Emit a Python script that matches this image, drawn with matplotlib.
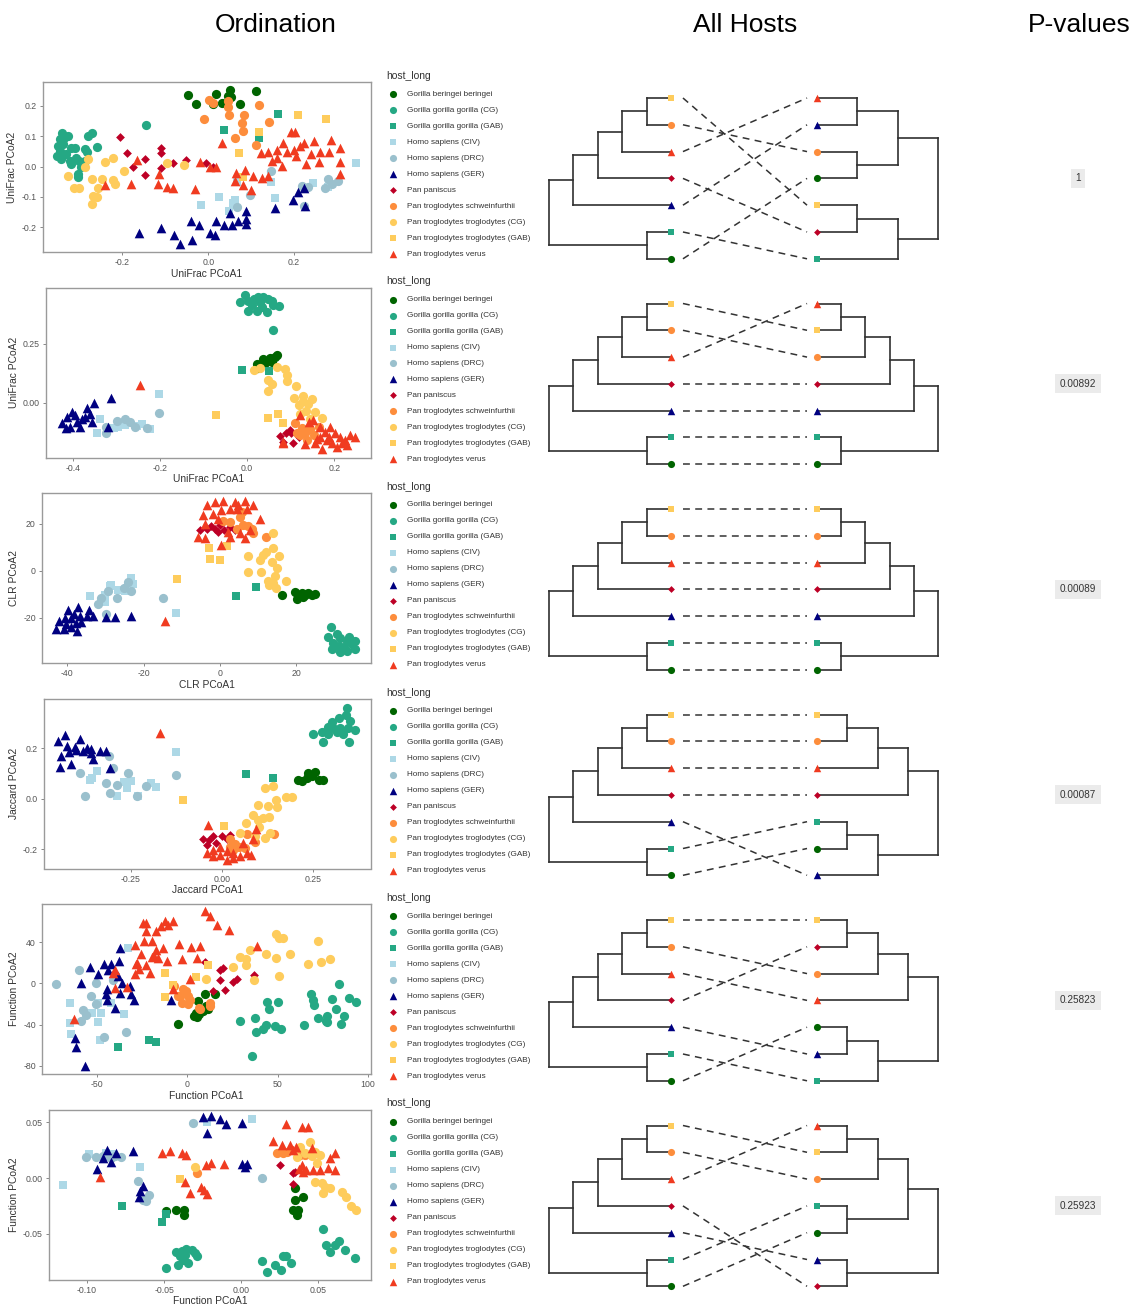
import matplotlib
matplotlib.use('Agg')
import matplotlib.pyplot as plt

plt.rcParams['font.family'] = ['Liberation Sans', 'DejaVu Sans']
plt.rcParams['axes.unicode_minus'] = False

W, H = 1133, 1306
ROW = 205.5

# host groups (legend order)
codes = ['GBB', 'GGC', 'GGG', 'HSC', 'HSD', 'HSG', 'PP', 'PTS', 'PTC', 'PTG', 'PTV']
names = ['Gorilla beringei beringei', 'Gorilla gorilla gorilla (CG)',
         'Gorilla gorilla gorilla (GAB)', 'Homo sapiens (CIV)', 'Homo sapiens (DRC)',
         'Homo sapiens (GER)', 'Pan paniscus', 'Pan troglodytes schweinfurthii',
         'Pan troglodytes troglodytes (CG)', 'Pan troglodytes troglodytes (GAB)',
         'Pan troglodytes verus']
colors = ['#006400', '#25A884', '#25A884', '#ADD8E6', '#9AC0CD', '#000080',
          '#BD0026', '#FD8D3C', '#FECC5C', '#FECC5C', '#F03B20']
markers = ['o', 'o', 's', 's', 'o', '^', 'D', 'o', 'o', 's', '^']
msize = {'o': 44, 's': 34, '^': 48, 'D': 20}

# ---- ordination scores ----
unifrac_w = {
    'GBB': [(-0.048, 0.234), (-0.029, 0.206), (0.018, 0.240), (0.012, 0.206), (0.032, 0.208),
            (0.051, 0.253), (0.045, 0.233), (0.053, 0.228), (0.074, 0.206), (0.110, 0.248)],
    'GGC': [(-0.340, 0.111), (-0.346, 0.089), (-0.350, 0.068), (-0.346, 0.051), (-0.342, 0.024),
            (-0.335, 0.095), (-0.327, 0.100), (-0.319, 0.060), (-0.331, 0.040), (-0.323, 0.019),
            (-0.311, 0.060), (-0.307, 0.029), (-0.300, 0.019), (-0.296, -0.003), (-0.304, -0.036),
            (-0.288, 0.057), (-0.282, 0.049), (-0.272, 0.111), (-0.280, 0.100), (-0.259, 0.064),
            (-0.288, 0.019), (-0.319, 0.008), (-0.304, -0.025), (-0.146, 0.135), (-0.353, 0.035),
            (-0.339, 0.073)],
    'GGG': [(0.037, 0.120), (0.119, 0.095), (0.162, 0.173)],
    'HSC': [(0.344, 0.013), (0.068, -0.052), (0.146, -0.052), (0.156, -0.105), (0.026, -0.101),
            (-0.018, -0.125), (0.058, -0.121), (0.049, -0.147), (0.062, -0.110), (0.280, -0.067),
            (0.245, -0.053)],
    'HSD': [(0.146, -0.016), (0.097, -0.095), (0.068, -0.134), (0.218, -0.063), (0.233, -0.067),
            (0.272, -0.069), (0.303, -0.047), (0.280, -0.041), (0.223, -0.131), (0.288, -0.058)],
    'HSG': [(-0.161, -0.218), (-0.111, -0.203), (-0.079, -0.225), (-0.066, -0.254), (-0.039, -0.243),
            (-0.041, -0.180), (-0.022, -0.191), (0.004, -0.219), (0.016, -0.224), (0.019, -0.180),
            (0.037, -0.192), (0.056, -0.191), (0.070, -0.178), (0.088, -0.147), (0.089, -0.173),
            (0.089, -0.189), (0.051, -0.154), (0.156, -0.136), (0.197, -0.110), (0.209, -0.085),
            (0.226, -0.131), (0.222, -0.069)],
    'PP': [(-0.206, 0.097), (-0.189, 0.046), (-0.175, -0.001), (-0.148, 0.024), (-0.148, -0.027),
           (-0.111, 0.060), (-0.111, 0.044), (-0.111, -0.005), (-0.083, 0.013), (-0.053, 0.021),
           (-0.005, 0.013), (0.010, -0.003)],
    'PTS': [(0.002, 0.220), (0.010, 0.209), (0.047, 0.195), (-0.010, 0.155), (0.048, 0.168),
            (0.083, 0.169), (0.079, 0.144), (0.082, 0.117), (0.062, 0.095), (0.118, 0.201),
            (0.141, 0.147), (0.111, 0.070), (0.045, 0.217)],
    'PTC': [(-0.327, -0.031), (-0.313, -0.072), (-0.300, -0.072), (-0.288, -0.003), (-0.280, 0.024),
            (-0.270, -0.041), (-0.257, -0.069), (-0.268, -0.096), (-0.259, -0.101), (-0.270, -0.123),
            (-0.247, -0.041), (-0.241, 0.015), (-0.223, 0.029), (-0.222, -0.045), (-0.218, -0.058),
            (-0.197, -0.014), (-0.097, 0.013), (-0.056, 0.004)],
    'PTG': [(0.210, 0.168), (0.275, 0.156), (0.117, 0.115), (0.072, 0.044), (0.080, -0.036)],
    'PTV': [(-0.241, -0.060), (-0.179, -0.056), (-0.166, 0.021), (-0.117, -0.056), (-0.097, -0.067),
            (-0.082, -0.069), (-0.114, -0.023), (-0.030, -0.074), (-0.019, 0.016), (0.005, -0.001),
            (0.019, -0.003), (0.033, 0.079), (0.065, -0.020), (0.086, -0.012), (0.080, -0.060),
            (0.103, -0.031), (0.125, -0.038), (0.140, -0.031), (0.122, 0.046), (0.140, 0.049),
            (0.148, 0.019), (0.159, 0.053), (0.159, 0.029), (0.171, 0.002), (0.175, 0.079),
            (0.183, 0.049), (0.193, 0.113), (0.203, 0.113), (0.200, 0.053), (0.205, 0.035),
            (0.214, 0.068), (0.223, 0.079), (0.228, 0.008), (0.240, 0.040), (0.247, 0.084),
            (0.257, 0.015), (0.261, 0.047), (0.282, 0.047), (0.286, 0.087), (0.307, 0.060),
            (0.307, 0.015), (0.307, -0.025), (0.099, -0.077), (0.062, -0.049)],
}

unifrac_u = {
    'GBB': [(0.022, 0.165), (0.037, 0.186), (0.045, 0.179), (0.053, 0.191), (0.064, 0.196),
            (0.026, 0.148), (0.041, 0.168), (0.057, 0.172), (0.068, 0.201)],
    'GGC': [(-0.005, 0.459), (-0.016, 0.427), (0.003, 0.434), (0.015, 0.441), (0.026, 0.448),
            (0.037, 0.451), (0.049, 0.441), (0.060, 0.417), (0.074, 0.412), (0.001, 0.391),
            (0.022, 0.391), (0.034, 0.405), (0.045, 0.384), (0.057, 0.431), (0.011, 0.417),
            (0.030, 0.427), (0.059, 0.311)],
    'GGG': [(-0.011, 0.137), (0.050, 0.135)],
    'HSC': [(-0.201, 0.035), (-0.345, -0.129), (-0.337, -0.068), (-0.295, -0.103), (-0.280, -0.096),
            (-0.253, -0.100), (-0.241, -0.092), (-0.222, -0.114), (-0.306, -0.110)],
    'HSD': [(-0.201, -0.044), (-0.323, -0.129), (-0.299, -0.078), (-0.280, -0.068), (-0.257, -0.103),
            (-0.323, -0.103), (-0.268, -0.082), (-0.230, -0.110)],
    'HSG': [(-0.425, -0.089), (-0.413, -0.061), (-0.402, -0.040), (-0.406, -0.103), (-0.390, -0.082),
            (-0.383, -0.103), (-0.371, -0.061), (-0.368, -0.025), (-0.360, -0.047), (-0.351, -0.001),
            (-0.356, -0.082), (-0.415, -0.110), (-0.394, -0.054), (-0.379, -0.072), (-0.313, 0.021),
            (-0.320, -0.103)],
    'PP': [(0.076, -0.143), (0.089, -0.129), (0.100, -0.131), (0.083, -0.167), (0.106, -0.171),
           (0.099, -0.117), (0.118, -0.145)],
    'PTS': [(0.110, -0.089), (0.125, -0.110), (0.133, -0.129), (0.144, -0.114), (0.154, -0.138),
            (0.137, -0.160), (0.122, -0.138), (0.164, -0.103), (0.114, -0.131)],
    'PTC': [(0.015, 0.137), (0.030, 0.148), (0.049, 0.095), (0.057, 0.081), (0.047, 0.048),
            (0.087, 0.144), (0.092, 0.116), (0.091, 0.090), (0.112, 0.069), (0.108, 0.021),
            (0.128, 0.027), (0.129, 0.007), (0.148, 0.017), (0.140, -0.007), (0.118, -0.011),
            (0.135, -0.035), (0.156, -0.040), (0.171, -0.064), (0.144, -0.068), (0.122, -0.047),
            (0.068, 0.151)],
    'PTG': [(-0.071, -0.054), (0.047, -0.065), (0.070, -0.047), (0.083, -0.089)],
    'PTV': [(-0.245, 0.073), (0.122, -0.054), (0.083, -0.174), (0.167, -0.103), (0.179, -0.124),
            (0.190, -0.103), (0.202, -0.131), (0.213, -0.145), (0.225, -0.160), (0.236, -0.138),
            (0.248, -0.148), (0.183, -0.160), (0.195, -0.174), (0.206, -0.188), (0.171, -0.199),
            (0.187, -0.145), (0.218, -0.174), (0.229, -0.181), (0.156, -0.171), (0.133, -0.177),
            (0.141, -0.082), (0.152, -0.075), (0.160, -0.157), (0.083, -0.167), (0.167, -0.145)],
}

clr = {
    'GBB': [(16.2, -10.1), (19.7, -9.0), (20.6, -10.8), (21.4, -9.4), (22.3, -10.1), (23.2, -9.4),
            (24.1, -10.1), (24.9, -9.8), (20.1, -11.8), (21.9, -11.2)],
    'GGC': [(29.0, -24.1), (31.5, -28.6), (28.4, -28.3), (29.7, -30.5), (31.1, -31.9), (33.2, -29.8),
            (34.6, -31.2), (35.4, -33.3), (33.2, -34.0), (31.5, -34.7), (29.3, -33.3), (33.9, -28.1),
            (35.4, -29.8), (30.6, -26.9), (32.4, -32.6)],
    'GGG': [(4.1, -10.5), (9.4, -7.0)],
    'HSC': [(-23.4, -3.1), (-22.7, -5.6), (-28.4, -5.9), (-28.9, -6.6), (-33.9, -10.8),
            (-30.2, -10.1), (-30.2, -13.2), (-24.9, -8.7), (-11.5, -17.8), (-26.7, -8.0)],
    'HSD': [(-15.0, -11.5), (-31.9, -14.0), (-29.3, -8.4), (-26.9, -11.5), (-24.1, -4.8),
            (-23.2, -8.7), (-29.9, -18.5), (-31.1, -11.5), (-25.2, -7.3)],
    'HSG': [(-42.9, -24.8), (-42.2, -21.3), (-40.2, -22.7), (-39.8, -16.8), (-38.9, -19.9),
            (-38.1, -18.5), (-37.8, -22.0), (-37.1, -15.4), (-36.7, -19.2), (-36.3, -21.6),
            (-37.3, -25.5), (-34.3, -16.8), (-34.8, -19.2), (-33.2, -19.2), (-40.9, -24.8),
            (-29.9, -19.6), (-27.6, -19.6), (-23.4, -19.2), (-38.9, -24.1), (-40.7, -19.9)],
    'PP': [(-5.2, 17.3), (-2.2, 19.1), (-1.3, 18.0), (0.0, 19.4), (1.0, 17.3), (2.6, 18.7),
           (3.9, 17.3), (-0.4, 16.6), (-3.5, 18.0)],
    'PTS': [(12.2, 14.5), (0.9, 21.1), (2.6, 20.8), (5.2, 22.9), (6.1, 19.6), (7.4, 19.1),
            (4.4, 18.0), (8.7, 15.9), (8.3, 18.0), (5.7, 25.0)],
    'PTC': [(14.0, 16.3), (7.4, 6.3), (11.4, 6.7), (12.2, 8.1), (13.8, 9.5), (15.6, 6.5),
            (10.5, 4.6), (13.6, 3.6), (7.4, -0.6), (10.9, -0.6), (14.9, 1.4), (12.7, -4.5),
            (14.4, -2.4), (12.9, -6.2), (14.7, -7.3), (17.3, -4.5), (14.0, -5.2)],
    'PTG': [(-2.8, 9.8), (1.9, 10.5), (-2.6, 5.1), (0.0, 4.6), (-11.2, -3.5)],
    'PTV': [(-14.4, -21.3), (-3.5, 27.8), (-1.3, 29.2), (0.9, 29.9), (3.9, 29.2), (4.8, 27.8),
            (6.6, 29.5), (8.7, 27.8), (-4.4, 23.6), (-1.7, 24.3), (0.4, 25.7), (2.6, 26.1),
            (4.4, 26.4), (7.0, 26.1), (10.5, 22.2), (-5.7, 14.5), (-3.9, 13.8), (0.4, 11.0),
            (2.6, 14.5), (5.2, 15.9), (6.6, 13.8), (-0.4, 22.2), (2.2, 16.6), (-3.9, 20.1),
            (7.9, 17.3)],
}

jaccard = {
    'GBB': [(0.210, 0.075), (0.219, 0.069), (0.233, 0.082), (0.246, 0.088), (0.255, 0.105),
            (0.265, 0.075), (0.277, 0.075), (0.237, 0.101)],
    'GGC': [(0.249, 0.255), (0.277, 0.222), (0.274, 0.265), (0.292, 0.284), (0.301, 0.301),
            (0.315, 0.265), (0.324, 0.281), (0.342, 0.359), (0.341, 0.331), (0.352, 0.307),
            (0.365, 0.271), (0.350, 0.222), (0.333, 0.255), (0.320, 0.320), (0.292, 0.255),
            (0.306, 0.281), (0.347, 0.281)],
    'GGG': [(0.066, 0.098), (0.139, 0.082)],
    'HSC': [(-0.127, 0.183), (-0.363, 0.075), (-0.342, 0.108), (-0.289, 0.009), (-0.268, 0.065),
            (-0.248, 0.069), (-0.259, 0.043), (-0.230, 0.009), (-0.195, 0.061), (-0.181, 0.046),
            (-0.355, 0.082)],
    'HSD': [(-0.310, 0.170), (-0.300, 0.122), (-0.388, 0.101), (-0.319, 0.061), (-0.308, 0.022),
            (-0.376, 0.009), (-0.257, 0.101), (-0.233, 0.009), (-0.209, 0.048), (-0.125, 0.092),
            (-0.289, 0.052)],
    'HSG': [(-0.450, 0.226), (-0.430, 0.252), (-0.441, 0.170), (-0.444, 0.124), (-0.419, 0.183),
            (-0.413, 0.135), (-0.399, 0.192), (-0.388, 0.235), (-0.381, 0.188), (-0.370, 0.200),
            (-0.359, 0.179), (-0.354, 0.157), (-0.334, 0.190), (-0.319, 0.187), (-0.308, 0.122),
            (-0.424, 0.209), (-0.404, 0.203), (-0.358, 0.196)],
    'PP': [(-0.051, -0.161), (-0.042, -0.183), (-0.024, -0.150), (-0.001, -0.150), (0.013, -0.161),
           (-0.015, -0.176), (0.022, -0.144), (-0.035, -0.163)],
    'PTS': [(0.022, -0.190), (0.036, -0.179), (0.048, -0.190), (0.070, -0.140), (0.091, -0.174),
            (0.063, -0.196), (0.143, -0.140), (0.022, -0.161), (0.031, -0.203)],
    'PTC': [(0.118, 0.042), (0.139, 0.048), (0.148, -0.004), (0.127, -0.030), (0.100, -0.026),
            (0.086, -0.065), (0.112, -0.078), (0.128, -0.072), (0.100, -0.085), (0.103, -0.114),
            (0.118, -0.157), (0.091, -0.150), (0.066, -0.095), (0.049, -0.137), (0.176, 0.005),
            (0.191, 0.007), (0.152, -0.035), (0.132, -0.135)],
    'PTG': [(-0.106, -0.004), (0.005, -0.109)],
    'PTV': [(-0.170, 0.261), (-0.038, -0.105), (-0.042, -0.216), (-0.024, -0.229), (-0.005, -0.222),
            (0.013, -0.242), (0.031, -0.235), (0.049, -0.226), (0.068, -0.216), (0.081, -0.222),
            (0.086, -0.161), (0.093, -0.122), (-0.024, -0.203), (-0.005, -0.190), (0.031, -0.216),
            (0.059, -0.176), (0.013, -0.209)],
}

function_a = {
    'GBB': [(-5.0, -39.6), (3.7, -31.5), (5.5, -32.5), (6.6, -29.9), (8.9, -26.7), (10.3, -21.9),
            (6.1, -17.1), (9.8, -10.0), (15.3, -10.6), (4.8, -28.3), (11.6, -25.1)],
    'GGC': [(29.2, -36.4), (38.0, -46.7), (37.6, -33.1), (36.0, -70.8), (44.3, -17.7), (45.4, -25.1),
            (42.1, -44.4), (43.5, -40.5), (48.5, -41.2), (50.4, -17.7), (51.8, -44.4), (64.6, -40.2),
            (68.3, -10.0), (69.7, -16.4), (70.3, -21.2), (72.5, -33.1), (80.4, -15.4), (77.1, -31.5),
            (77.5, -37.0), (82.3, -25.1), (84.1, -0.3), (84.9, -39.6), (86.7, -31.5), (89.7, -14.5),
            (93.4, -17.7), (76.8, -36.4)],
    'GGG': [(-38.2, -62.1), (-21.0, -54.7), (-17.3, -56.6)],
    'HSC': [(-32.7, 33.8), (-64.6, -18.7), (-64.9, -38.6), (-64.0, -48.6), (-49.3, -18.7),
            (-52.4, -28.3), (-47.6, -28.3), (-49.3, -37.3), (-41.9, -18.7), (-35.1, -29.3),
            (-48.0, -54.7)],
    'HSD': [(-72.3, -1.0), (-59.8, 12.9), (-50.6, 0.0), (-53.0, -12.2), (-57.6, -26.1),
            (-59.0, -36.4), (-55.7, -30.6), (-50.2, -20.3), (-46.1, -51.8), (-34.0, -47.0),
            (-41.0, 2.9)],
    'HSG': [(-37.3, 34.4), (-53.9, 15.8), (-58.5, 0.6), (-49.3, 9.3), (-46.1, 19.0), (-43.7, 12.5),
            (-37.6, 21.6), (-38.2, 7.1), (-35.8, 0.6), (-44.6, -5.8), (-45.0, -10.6), (-44.6, -16.4),
            (-40.0, -24.1), (-37.3, -9.0), (-31.7, -2.6), (-30.8, -10.6), (-29.5, -16.4),
            (-62.2, -53.4), (-61.6, -61.5), (-56.6, -79.8), (-8.7, -16.4), (-41.9, 18.3)],
    'PP': [(9.8, 20.9), (18.1, 12.5), (19.9, 14.5), (18.1, 2.9), (25.5, 1.6), (27.7, 3.9),
           (20.8, -6.4), (36.9, 7.7), (14.4, -7.4)],
    'PTS': [(-5.0, -12.2), (-2.2, -5.8), (-0.7, -7.4), (0.6, -12.2), (-3.1, -18.7), (0.6, -20.3),
            (1.5, -16.4), (6.6, -23.5), (12.9, -18.7), (12.5, -21.9), (-7.4, -2.6), (7.0, -25.1),
            (-4.1, -12.2)],
    'PTC': [(10.3, 3.9), (25.1, 15.8), (29.2, 25.4), (32.5, 17.7), (32.5, 23.2), (34.9, 31.9),
            (43.5, 28.0), (49.1, 47.9), (50.9, 44.1), (52.8, 44.1), (49.1, 24.8), (50.6, 7.1),
            (56.8, 28.6), (67.0, 19.0), (72.5, 41.5), (73.8, 20.9), (79.0, 23.2), (36.9, 2.9)],
    'PTG': [(-12.4, 10.3), (-7.7, -1.6), (-12.4, -13.2), (4.8, 6.1), (11.6, 17.4)],
    'PTV': [(-41.0, 10.3), (-29.0, 8.7), (-28.0, 19.9), (-29.0, 37.6), (-24.4, 58.6), (-22.5, 58.6),
            (-17.0, 51.2), (-19.2, 41.5), (-17.0, 32.8), (-16.2, 24.8), (-18.5, 26.4), (-12.4, 60.8),
            (-10.7, 56.9), (-7.7, 60.2), (-14.2, 55.3), (-22.5, 51.2), (-24.0, 41.5), (-25.3, 28.6),
            (-28.4, 19.0), (-20.3, 10.3), (-19.7, 25.4), (-11.4, 21.6), (-4.4, 38.3), (-2.6, 23.2),
            (2.4, 35.1), (7.0, 36.0), (5.2, 24.1), (1.5, 3.9), (9.8, 70.5), (12.9, 65.0),
            (16.6, 56.3), (23.2, 52.1), (38.7, 36.0), (-33.2, -3.5), (-40.0, -4.2), (-62.7, -34.7),
            (-7.7, -5.8), (-40.0, 12.5), (-26.6, 13.5), (-13.3, 34.4), (-22.5, 17.7)],
}

function_b = {
    'GBB': [(-0.0485, -0.0298), (-0.0420, -0.0289), (-0.0372, -0.0283), (-0.0372, -0.0327),
            (0.0348, -0.0089), (0.0348, -0.0193), (0.0398, -0.0164), (0.0338, -0.0283),
            (0.0370, -0.0283), (0.0359, -0.0327)],
    'GGC': [(-0.0489, -0.0804), (-0.0409, -0.0780), (-0.0424, -0.0664), (-0.0398, -0.0699),
            (-0.0387, -0.0655), (-0.0366, -0.0685), (-0.0344, -0.0759), (-0.0322, -0.0640),
            (-0.0301, -0.0670), (-0.0290, -0.0699), (-0.0377, -0.0729), (-0.0355, -0.0634),
            (0.0132, -0.0744), (0.0165, -0.0842), (0.0219, -0.0780), (0.0255, -0.0824),
            (0.0273, -0.0699), (0.0290, -0.0699), (0.0320, -0.0759), (0.0528, -0.0455),
            (0.0550, -0.0595), (0.0576, -0.0664), (0.0608, -0.0595), (0.0636, -0.0565),
            (0.0673, -0.0640), (0.0738, -0.0714)],
    'GGG': [(-0.0771, -0.0253), (-0.0491, -0.0321), (-0.0517, -0.0396)],
    'HSC': [(-0.1156, -0.0060), (-0.0987, 0.0217), (-0.0853, 0.0193), (-0.0831, 0.0217),
            (-0.0658, 0.0104), (-0.0225, 0.0500), (0.0069, 0.0530), (-0.0879, 0.0223)],
    'HSD': [(-0.1009, 0.0193), (-0.0944, 0.0188), (-0.0896, 0.0199), (-0.0820, 0.0199),
            (-0.0777, 0.0193), (-0.0669, -0.0021), (-0.0636, -0.0193), (-0.0615, -0.0208),
            (-0.0597, -0.0149), (-0.0316, 0.0497), (0.0132, 0.0000), (-0.0842, 0.0179)],
    'HSG': [(-0.0933, 0.0080), (-0.0896, 0.0179), (-0.0870, 0.0253), (-0.0842, 0.0149),
            (-0.0814, 0.0223), (-0.0701, 0.0247), (-0.0636, -0.0074), (-0.0662, -0.0164),
            (-0.0654, -0.0119), (-0.0251, 0.0551), (-0.0199, 0.0557), (-0.0225, 0.0402),
            (-0.0139, 0.0527), (-0.0100, 0.0485), (0.0002, 0.0497), (0.0002, 0.0128),
            (0.0024, 0.0104), (0.0035, 0.0128)],
    'PP': [(0.0251, 0.0119), (0.0333, 0.0051), (0.0338, -0.0051), (0.0348, 0.0060)],
    'PTS': [(0.0229, 0.0223), (0.0268, 0.0229), (0.0294, 0.0238), (-0.0286, 0.0051),
            (0.0381, 0.0208), (0.0413, 0.0208)],
    'PTC': [(-0.0301, 0.0098), (0.0381, 0.0283), (0.0413, 0.0223), (0.0446, 0.0327),
            (0.0478, 0.0238), (0.0489, 0.0134), (0.0511, 0.0208), (0.0478, -0.0030),
            (0.0522, -0.0045), (0.0543, -0.0080), (0.0576, -0.0089), (0.0533, -0.0134),
            (0.0652, -0.0128), (0.0680, -0.0170), (0.0710, -0.0247), (0.0745, -0.0283),
            (0.0457, 0.0199), (0.0359, 0.0193)],
    'PTG': [(-0.0398, -0.0009)],
    'PTV': [(-0.0918, 0.0009), (-0.0511, 0.0229), (-0.0463, 0.0247), (-0.0381, 0.0223),
            (-0.0359, 0.0208), (-0.0366, -0.0030), (-0.0333, -0.0134), (-0.0258, -0.0080),
            (-0.0242, -0.0104), (-0.0225, -0.0143), (-0.0229, 0.0119), (-0.0199, 0.0140),
            (-0.0113, 0.0128), (0.0203, 0.0336), (0.0262, 0.0298), (0.0290, 0.0485),
            (0.0316, 0.0298), (0.0338, 0.0253), (0.0392, 0.0461), (0.0435, 0.0455),
            (0.0355, 0.0283), (0.0392, 0.0119), (0.0420, 0.0074), (0.0457, 0.0268),
            (0.0511, 0.0074), (0.0565, 0.0089), (0.0608, 0.0074), (0.0608, 0.0223),
            (0.0576, 0.0179), (0.0468, 0.0074), (0.0403, 0.0060), (0.0377, 0.0080)],
}

# axis titles, ticks, limits per row
x_titles = ['UniFrac PCoA1', 'UniFrac PCoA1', 'CLR PCoA1', 'Jaccard PCoA1',
            'Function PCoA1', 'Function PCoA1']
y_titles = ['UniFrac PCoA2', 'UniFrac PCoA2', 'CLR PCoA2', 'Jaccard PCoA2',
            'Function PCoA2', 'Function PCoA2']
x_ticks = [[-0.2, 0.0, 0.2], [-0.4, -0.2, 0.0, 0.2], [-40, -20, 0, 20],
           [-0.25, 0.0, 0.25], [-50, 0, 50, 100], [-0.10, -0.05, 0.0, 0.05]]
x_ticklabels = [['-0.2', '0.0', '0.2'], ['-0.4', '-0.2', '0.0', '0.2'], ['-40', '-20', '0', '20'],
                ['-0.25', '0.00', '0.25'], ['-50', '0', '50', '100'],
                ['-0.10', '-0.05', '0.00', '0.05']]
y_ticks = [[-0.2, -0.1, 0.0, 0.1, 0.2], [0.0, 0.25], [-20, 0, 20], [-0.2, 0.0, 0.2],
           [-80, -40, 0, 40], [-0.05, 0.0, 0.05]]
y_ticklabels = [['-0.2', '-0.1', '0.0', '0.1', '0.2'], ['0.00', '0.25'], ['-20', '0', '20'],
                ['-0.2', '0.0', '0.2'], ['-80', '-40', '0', '40'], ['-0.05', '0.00', '0.05']]
x_lims = [(-0.385, 0.379), (-0.461, 0.284), (-46.6, 39.6), (-0.488, 0.409),
          (-80.3, 101.7), (-0.1247, 0.0842)]
y_lims = [(-0.281, 0.278), (-0.234, 0.490), (-39.2, 33.1), (-0.277, 0.396),
          (-87.8, 76.9), (-0.0908, 0.0616)]
frame_left = [43, 46, 42, 44, 42, 49]
ordinations = [unifrac_w, unifrac_u, clr, jaccard, function_a, function_b]

# host trees (nested pairs)
left_tree = (((((('PTG', 'PTS'), 'PTV'), 'PP'), 'HSG'), ('GGG', 'GBB')))
right_trees = [
    ((('PTV', 'HSG'), ('PTS', 'GBB')), (('PTG', 'PP'), 'GGG')),
    ((((('PTV', 'PTG'), 'PTS'), 'PP'), 'HSG'), ('GGG', 'GBB')),
    ((((('PTG', 'PTS'), 'PTV'), 'PP'), 'HSG'), ('GGG', 'GBB')),
    (((('PTG', 'PTS'), 'PTV'), 'PP'), (('GGG', 'GBB'), 'HSG')),
    (((('PTG', 'PP'), 'PTS'), 'PTV'), (('GBB', 'HSG'), 'GGG')),
    (((('PTV', 'PTG'), 'PTS'), ('GGG', 'GBB')), ('HSG', 'PP')),
]
p_values = ['1', '0.00892', '0.00089', '0.00087', '0.25823', '0.25923']

style = {c: (col, m) for c, col, m in zip(codes, colors, markers)}


def px_axes(fig, l, t, r, b):
    return fig.add_axes([l / W, 1 - b / H, (r - l) / W, (b - t) / H])


def leaves(node):
    if isinstance(node, str):
        return [node]
    return leaves(node[0]) + leaves(node[1])


def height(node):
    if isinstance(node, str):
        return 0
    return 1 + max(height(node[0]), height(node[1]))


def draw_tree(ax, tree, x_leaf, x_root):
    order = leaves(tree)
    step = (x_root - x_leaf) / height(tree)

    def walk(node):
        if isinstance(node, str):
            return order.index(node), x_leaf
        ya, xa = walk(node[0])
        yb, xb = walk(node[1])
        x = x_leaf + height(node) * step
        kw = dict(color='#303030', lw=1.2, solid_capstyle='projecting', zorder=1)
        ax.plot([x, x], [ya, yb], **kw)
        ax.plot([x, xa], [ya, ya], **kw)
        ax.plot([x, xb], [yb, yb], **kw)
        return (ya + yb) / 2, x

    walk(tree)
    for i, c in enumerate(order):
        col, m = style[c]
        ax.scatter([x_leaf], [i], color=col, marker=m, s=msize[m] * 0.6, linewidths=0, zorder=3)
    return order


fig = plt.figure(figsize=(W / 100, H / 100), dpi=100)

fig.text(276 / W, 1 - 25 / H, 'Ordination', ha='center', va='center', fontsize=19)
fig.text(745 / W, 1 - 25 / H, 'All Hosts', ha='center', va='center', fontsize=19)
fig.text(1079 / W, 1 - 25 / H, 'P-values', ha='center', va='center', fontsize=19)

for r in range(6):
    off = ROW * r

    # ordination scatter
    ax = px_axes(fig, frame_left[r], 82 + off, 371, 252 + off)
    for c in codes:
        col, m = style[c]
        pts = ordinations[r][c]
        ax.scatter([p[0] for p in pts], [p[1] for p in pts], color=col, marker=m,
                   s=msize[m], linewidths=0, zorder=2)
    ax.set_xlim(*x_lims[r])
    ax.set_ylim(*y_lims[r])
    ax.set_xticks(x_ticks[r], x_ticklabels[r])
    ax.set_yticks(y_ticks[r], y_ticklabels[r])
    ax.tick_params(labelsize=6.3, labelcolor='#555555', color='#888888', length=2.5, width=0.7, pad=2)
    for s in ax.spines.values():
        s.set_color('#9A9A9A')
        s.set_linewidth(1.0)
    ax.set_xlabel(x_titles[r], fontsize=7.4, color='#333333', labelpad=1)
    ax.set_ylabel(y_titles[r], fontsize=7.4, color='#333333', labelpad=3)

    # legend
    lg = px_axes(fig, 380, 68 + off, 545, 264 + off)
    lg.set_xlim(0, 165)
    lg.set_ylim(10.625, -1.625)
    lg.axis('off')
    lg.text(6, -1.125, 'host_long', fontsize=7.5, color='#333333', va='center', ha='left')
    for i, (c, name) in enumerate(zip(codes, names)):
        col, m = style[c]
        lg.scatter([13], [i], color=col, marker=m, s=msize[m] * 0.6, linewidths=0)
        lg.text(27, i, name, fontsize=5.9, color='#333333', va='center', ha='left')

    # tanglegram
    tg = px_axes(fig, 540, 98 + off - 13.4, 960, 98 + off + 6 * 26.8 + 13.4)
    tg.set_xlim((540 - 549) / 122, (960 - 549) / 122)
    tg.set_ylim(6.5, -0.5)
    tg.axis('off')
    left_order = draw_tree(tg, left_tree, 1.0, 0.0)
    right_order = draw_tree(tg, right_trees[r], 2.197, 3.189)
    for c in left_order:
        tg.plot([1.098, 2.115], [left_order.index(c), right_order.index(c)], color='#333333',
                lw=1.1, dashes=(4.5, 3.5), zorder=0)

    # p-value
    fig.text(1078 / W, 1 - (98 + off + 3 * 26.8) / H, p_values[r], ha='center', va='center',
             fontsize=7.2, color='#333333',
             bbox=dict(boxstyle='square,pad=0.45', facecolor='#EBEBEB', edgecolor='none'))

fig.savefig('out.png', dpi=100)
